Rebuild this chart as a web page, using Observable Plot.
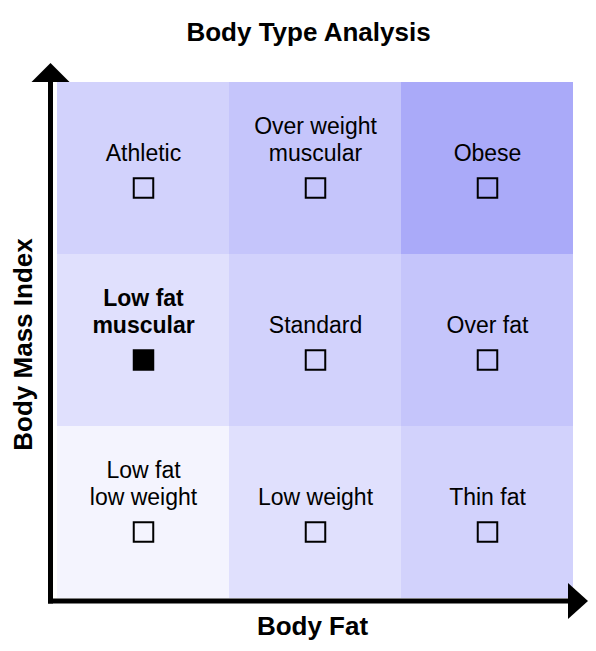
<!DOCTYPE html>
<html>
<head>
<meta charset="utf-8">
<script src="https://cdn.jsdelivr.net/npm/d3@7"></script>
<script src="https://cdn.jsdelivr.net/npm/@observablehq/plot@0.6"></script>
<style>
  html, body { margin: 0; padding: 0; background: #fff; }
  #chart svg { display: block; }
</style>
</head>
<body>
<div id="chart"></div>
<script>
// ---- data ----
const fatLevels = ["Low", "Medium", "High"];          // x (Body Fat)
const bmiLevels = ["High", "Medium", "Low"];          // y (Body Mass Index), top to bottom
const cellFat = ["Low", "Medium", "High", "Low", "Medium", "High", "Low", "Medium", "High"];
const cellBmi = ["High", "High", "High", "Medium", "Medium", "Medium", "Low", "Low", "Low"];
const cellLabels = [
  "Athletic", "Over weight\nmuscular", "Obese",
  "Low fat\nmuscular", "Standard", "Over fat",
  "Low fat\nlow weight", "Low weight", "Thin fat"
];
const cellShade = [2, 3, 4, 1, 2, 3, 0, 1, 2];
const cellSelected = [false, false, false, true, false, false, false, false, false];
const shadeColors = ["#f4f4fe", "#e0e0fd", "#d2d2fc", "#c5c5fb", "#aaaaf9"];
const titleText = "Body Type Analysis";
const xLabel = "Body Fat";
const yLabel = "Body Mass Index";

const cells = cellLabels.map((label, i) => ({
  fat: cellFat[i], bmi: cellBmi[i], label, shade: cellShade[i], selected: cellSelected[i]
}));

// axis lines with filled arrowheads (decoration drawn from frame dimensions)
function axesArrows(index, scales, values, dimensions) {
  const {width, height, marginLeft, marginRight, marginTop, marginBottom} = dimensions;
  const left = marginLeft, right = width - marginRight, top = marginTop, bottom = height - marginBottom;
  const g = d3.create("svg:g");
  const ax = left - 5.5;      // y axis line x
  const ay = bottom + 3;      // x axis line y
  g.append("line").attr("x1", ax).attr("x2", ax).attr("y1", top).attr("y2", ay + 2.5)
    .attr("stroke", "black").attr("stroke-width", 5);
  g.append("line").attr("x1", ax - 2.5).attr("x2", right - 5).attr("y1", ay).attr("y2", ay)
    .attr("stroke", "black").attr("stroke-width", 5);
  g.append("path")
    .attr("d", `M${ax - 19},${top} L${ax + 19},${top} L${ax},${top - 19} Z`)
    .attr("fill", "black");
  g.append("path")
    .attr("d", `M${right - 5},${ay - 18} L${right - 5},${ay + 18} L${right + 15},${ay} Z`)
    .attr("fill", "black");
  return g.node();
}

const plot = Plot.plot({
  width: 596,
  height: 651,
  marginLeft: 56,
  marginRight: 23,
  marginTop: 82,
  marginBottom: 53,
  style: {fontFamily: "'Liberation Sans', Arial, sans-serif", background: "white", color: "black"},
  x: {type: "band", domain: fatLevels, padding: 0, axis: null},
  y: {type: "band", domain: bmiLevels, padding: 0, axis: null},
  color: {type: "ordinal", domain: [0, 1, 2, 3, 4], range: shadeColors},
  marks: [
    Plot.cell(cells, {x: "fat", y: "bmi", fill: "shade"}),
    Plot.text(cells.filter(d => !d.selected), {
      x: "fat", y: "bmi", text: "label", lineAnchor: "bottom", lineHeight: 1.18,
      dy: -7.5, fontSize: 23, fill: "black"
    }),
    Plot.text(cells.filter(d => d.selected), {
      x: "fat", y: "bmi", text: "label", lineAnchor: "bottom", lineHeight: 1.18,
      dy: -7.5, fontSize: 23, fontWeight: "bold", fill: "black"
    }),
    Plot.dot(cells.filter(d => !d.selected), {
      x: "fat", y: "bmi", dy: 19.5, symbol: "square", r: 11, fill: "none", stroke: "black", strokeWidth: 2
    }),
    Plot.dot(cells.filter(d => d.selected), {
      x: "fat", y: "bmi", dy: 19.5, symbol: "square", r: 11, fill: "black", stroke: "black", strokeWidth: 2
    }),
    axesArrows,
    Plot.text([titleText], {
      frameAnchor: "top", textAnchor: "middle", dy: -60.3, dx: -6.5, fontSize: 26, fontWeight: "bold", fill: "black"
    }),
    Plot.text([xLabel], {
      frameAnchor: "bottom", textAnchor: "middle", dy: 36.7, dx: -2.5, fontSize: 26, fontWeight: "bold", fill: "black"
    }),
    Plot.text([yLabel], {
      frameAnchor: "left", textAnchor: "middle", rotate: -90, dx: -33.3, dy: 4, fontSize: 26, fontWeight: "bold", fill: "black"
    })
  ]
});
document.getElementById("chart").appendChild(plot);
</script>
</body>
</html>
